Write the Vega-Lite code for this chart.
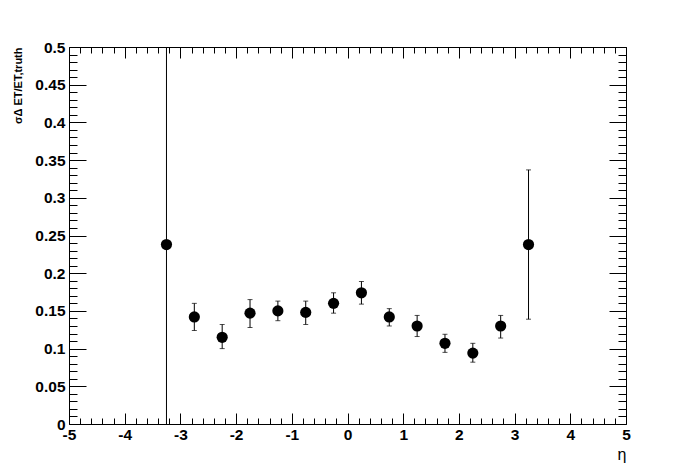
{
  "$schema": "https://vega.github.io/schema/vega-lite/v6.json",
  "width": 557,
  "height": 377,
  "autosize": "none",
  "padding": {"left": 69, "top": 47, "right": 70, "bottom": 48},
  "background": "white",
  "config": {"view": {"stroke": null}},
  "data": {"values": [
    {"eta": -3.25, "sigma": 0.238, "lo": -0.05, "hi": 0.55},
    {"eta": -2.75, "sigma": 0.142, "lo": 0.124, "hi": 0.160},
    {"eta": -2.25, "sigma": 0.115, "lo": 0.100, "hi": 0.132},
    {"eta": -1.75, "sigma": 0.147, "lo": 0.128, "hi": 0.165},
    {"eta": -1.25, "sigma": 0.150, "lo": 0.137, "hi": 0.163},
    {"eta": -0.75, "sigma": 0.148, "lo": 0.132, "hi": 0.163},
    {"eta": -0.25, "sigma": 0.160, "lo": 0.147, "hi": 0.174},
    {"eta": 0.25, "sigma": 0.174, "lo": 0.159, "hi": 0.189},
    {"eta": 0.75, "sigma": 0.142, "lo": 0.130, "hi": 0.153},
    {"eta": 1.25, "sigma": 0.130, "lo": 0.116, "hi": 0.144},
    {"eta": 1.75, "sigma": 0.107, "lo": 0.095, "hi": 0.119},
    {"eta": 2.25, "sigma": 0.094, "lo": 0.082, "hi": 0.107},
    {"eta": 2.75, "sigma": 0.130, "lo": 0.114, "hi": 0.144},
    {"eta": 3.25, "sigma": 0.238, "lo": 0.139, "hi": 0.337}
  ]},
  "resolve": {"axis": {"x": "independent", "y": "independent"}},
  "layer": [
    {
      "mark": {"type": "rule", "color": "black", "strokeWidth": 1, "clip": true},
      "encoding": {
        "x": {"field": "eta", "type": "quantitative", "scale": {"domain": [-5, 5], "nice": false, "zero": false},
          "axis": {
            "orient": "bottom", "title": "η", "titleAnchor": "end", "titleFont": "Liberation Sans", "titleFontSize": 16, "titleFontWeight": "normal", "titlePadding": -1, "titleColor": "black",
            "values": [-5,-4.8,-4.6,-4.4,-4.2,-4,-3.8,-3.6,-3.4,-3.2,-3,-2.8,-2.6,-2.4,-2.2,-2,-1.8,-1.6,-1.4,-1.2,-1,-0.8,-0.6,-0.4,-0.2,0,0.2,0.4,0.6,0.8,1,1.2,1.4,1.6,1.8,2,2.2,2.4,2.6,2.8,3,3.2,3.4,3.6,3.8,4,4.2,4.4,4.6,4.8,5],
            "grid": false, "domainColor": "black", "domainWidth": 1, "tickColor": "black", "tickWidth": 1,
            "tickSize": {"condition": {"test": "abs(datum.value - round(datum.value)) < 1e-6", "value": -11}, "value": -6},
            "labelExpr": "abs(datum.value - round(datum.value)) < 1e-6 ? '' + datum.value : ''",
            "labelFont": "Liberation Sans", "labelFontWeight": "bold", "labelFontSize": 15.5, "labelColor": "black", "labelPadding": 14, "labelFlush": false, "labelOverlap": false
          }},
        "y": {"field": "lo", "type": "quantitative", "scale": {"domain": [0, 0.5], "nice": false, "zero": false},
          "axis": {
            "orient": "left", "title": "σΔ ET/ET,truth", "titleAnchor": "end", "titleFont": "Liberation Sans", "titleFontSize": 11, "titleFontWeight": "bold", "titlePadding": 11, "titleColor": "black",
            "values": [0,0.01,0.02,0.03,0.04,0.05,0.06,0.07,0.08,0.09,0.1,0.11,0.12,0.13,0.14,0.15,0.16,0.17,0.18,0.19,0.2,0.21,0.22,0.23,0.24,0.25,0.26,0.27,0.28,0.29,0.3,0.31,0.32,0.33,0.34,0.35,0.36,0.37,0.38,0.39,0.4,0.41,0.42,0.43,0.44,0.45,0.46,0.47,0.48,0.49,0.5],
            "grid": false, "domainColor": "black", "domainWidth": 1, "tickColor": "black", "tickWidth": 1,
            "tickSize": {"condition": {"test": "abs(datum.value * 20 - round(datum.value * 20)) < 1e-6", "value": -17}, "value": -8},
            "labelExpr": "abs(datum.value * 20 - round(datum.value * 20)) < 1e-6 ? '' + datum.value : ''",
            "labelFont": "Liberation Sans", "labelFontWeight": "bold", "labelFontSize": 15.5, "labelColor": "black", "labelPadding": 21, "labelFlush": false, "labelOverlap": false
          }},
        "y2": {"field": "hi"}
      }
    },
    {
      "mark": {"type": "tick", "color": "black", "orient": "horizontal", "size": 5, "thickness": 1, "clip": true},
      "encoding": {
        "x": {"field": "eta", "type": "quantitative", "axis": null},
        "y": {"field": "hi", "type": "quantitative", "axis": null}
      }
    },
    {
      "mark": {"type": "tick", "color": "black", "orient": "horizontal", "size": 5, "thickness": 1, "clip": true},
      "encoding": {
        "x": {"field": "eta", "type": "quantitative", "axis": null},
        "y": {"field": "lo", "type": "quantitative", "axis": null}
      }
    },
    {
      "mark": {"type": "point", "shape": "circle", "filled": true, "color": "black", "opacity": 1, "size": 125},
      "encoding": {
        "x": {"field": "eta", "type": "quantitative",
          "axis": {
            "orient": "top", "title": null,
            "values": [-5,-4.8,-4.6,-4.4,-4.2,-4,-3.8,-3.6,-3.4,-3.2,-3,-2.8,-2.6,-2.4,-2.2,-2,-1.8,-1.6,-1.4,-1.2,-1,-0.8,-0.6,-0.4,-0.2,0,0.2,0.4,0.6,0.8,1,1.2,1.4,1.6,1.8,2,2.2,2.4,2.6,2.8,3,3.2,3.4,3.6,3.8,4,4.2,4.4,4.6,4.8,5],
            "grid": false, "labels": false, "domainColor": "black", "domainWidth": 1, "tickColor": "black", "tickWidth": 1,
            "tickSize": {"condition": {"test": "abs(datum.value - round(datum.value)) < 1e-6", "value": -11}, "value": -6}
          }},
        "y": {"field": "sigma", "type": "quantitative",
          "axis": {
            "orient": "right", "title": null,
            "values": [0,0.01,0.02,0.03,0.04,0.05,0.06,0.07,0.08,0.09,0.1,0.11,0.12,0.13,0.14,0.15,0.16,0.17,0.18,0.19,0.2,0.21,0.22,0.23,0.24,0.25,0.26,0.27,0.28,0.29,0.3,0.31,0.32,0.33,0.34,0.35,0.36,0.37,0.38,0.39,0.4,0.41,0.42,0.43,0.44,0.45,0.46,0.47,0.48,0.49,0.5],
            "grid": false, "labels": false, "domainColor": "black", "domainWidth": 1, "tickColor": "black", "tickWidth": 1,
            "tickSize": {"condition": {"test": "abs(datum.value * 20 - round(datum.value * 20)) < 1e-6", "value": -17}, "value": -8}
          }}
      }
    }
  ]
}
